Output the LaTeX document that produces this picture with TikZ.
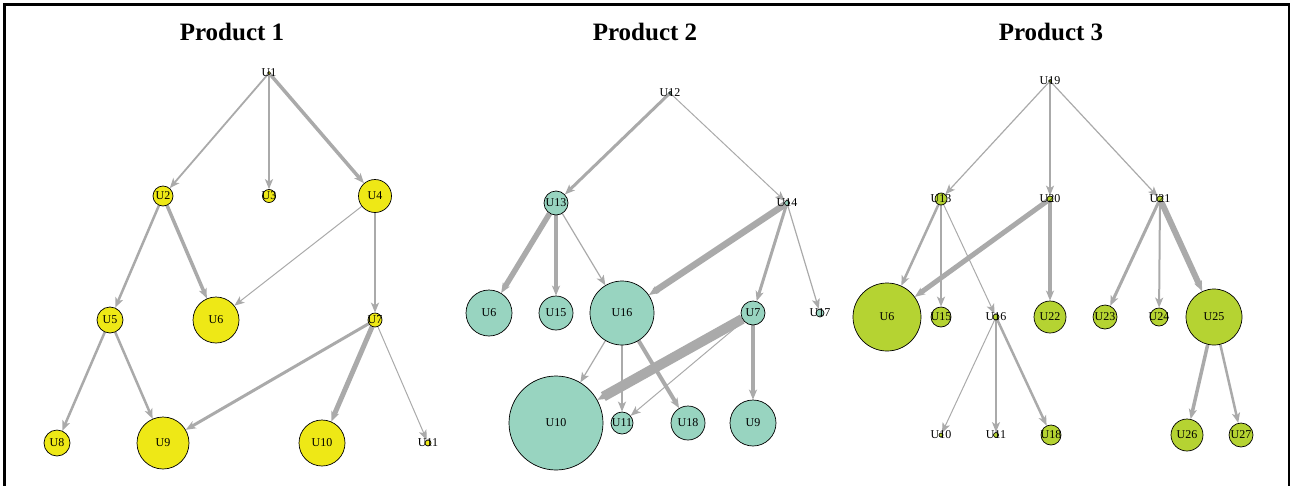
\documentclass[tikz,border=0pt]{standalone}
\usepackage{fontspec}
\setmainfont{Liberation Serif}
\usetikzlibrary{arrows.meta}
\pgfdeclarelayer{bg}
\pgfsetlayers{bg,main}
\definecolor{edgegray}{RGB}{170,170,170}
\definecolor{cya}{RGB}{238,232,22}
\definecolor{cyb}{RGB}{152,212,192}
\definecolor{cyc}{RGB}{181,211,50}
\tikzset{
  vx/.style={circle,draw=black,line width=0.7pt,inner sep=0pt,minimum size=#1},
  ya/.style={vx=#1,fill=cya},
  yb/.style={vx=#1,fill=cyb},
  yc/.style={vx=#1,fill=cyc},
  every label/.style={font=\fontsize{12}{12}\selectfont,inner sep=0pt,text=black},
  ed/.style={draw=edgegray,line width=#1,-{Stealth[length=10pt,width=8pt,inset=2.5pt]}},
  ttl/.style={font=\fontsize{25}{25}\selectfont\bfseries}
}
\begin{document}
\begin{tikzpicture}[x=1pt,y=-1pt]
\useasboundingbox (0,0) rectangle (1293,485);
\draw[line width=2.6pt] (4.5,486) -- (4.5,4.3) -- (1289,4.3) -- (1289,486);
% titles
\node[ttl] (t1) at (232,32) {Product 1};
\node[ttl] (t2) at (645,32) {Product 2};
\node[ttl] (t3) at (1051,32) {Product 3};
% ---------- Product 1 ----------
\node[ya=3pt,label=center:U1] (a1) at (269,73) {};
\node[ya=20pt,label=center:U2] (a2) at (163,196) {};
\node[ya=13pt,label=center:U3] (a3) at (269,196) {};
\node[ya=33pt,label=center:U4] (a4) at (375,196) {};
\node[ya=26pt,label=center:U5] (a5) at (110,320) {};
\node[ya=46pt,label=center:U6] (a6) at (216,320) {};
\node[ya=14pt,label=center:U7] (a7) at (375,320) {};
\node[ya=26pt,label=center:U8] (a8) at (57,443) {};
\node[ya=52pt,label=center:U9] (a9) at (163,443) {};
\node[ya=46pt,label=center:U10] (a10) at (322,443) {};
\node[ya=6pt,label=center:U11] (a11) at (428,443) {};
% ---------- Product 2 ----------
\node[yb=3pt,label=center:U12] (b12) at (670,93) {};
\node[yb=24pt,label=center:U13] (b13) at (556,203) {};
\node[yb=5pt,label=center:U14] (b14) at (787,203) {};
\node[yb=46pt,label=center:U6] (b6) at (489,313) {};
\node[yb=34pt,label=center:U15] (b15) at (556,313) {};
\node[yb=64pt,label=center:U16] (b16) at (622,313) {};
\node[yb=24pt,label=center:U7] (b7) at (753,313) {};
\node[yb=8pt,label=center:U17] (b17) at (820,313) {};
\node[yb=94pt,label=center:U10] (b10) at (556,423) {};
\node[yb=22pt,label=center:U11] (b11) at (622,423) {};
\node[yb=34pt,label=center:U18] (b18) at (688,423) {};
\node[yb=46pt,label=center:U9] (b9) at (753,423) {};
% ---------- Product 3 ----------
\node[yc=3pt,label=center:U19] (c19) at (1050,81) {};
\node[yc=12pt,label=center:U13] (c13) at (941,199) {};
\node[yc=6pt,label=center:U20] (c20) at (1050,199) {};
\node[yc=6pt,label=center:U21] (c21) at (1160,199) {};
\node[yc=68pt,label=center:U6] (c6) at (887,317) {};
\node[yc=20pt,label=center:U15] (c15) at (941,317) {};
\node[yc=6pt,label=center:U16] (c16) at (996,317) {};
\node[yc=32pt,label=center:U22] (c22) at (1050,317) {};
\node[yc=24pt,label=center:U23] (c23) at (1105,317) {};
\node[yc=18pt,label=center:U24] (c24) at (1159,317) {};
\node[yc=56pt,label=center:U25] (c25) at (1214,317) {};
\node[yc=4pt,label=center:U10] (c10) at (941,435) {};
\node[yc=5pt,label=center:U11] (c11) at (996,435) {};
\node[yc=20pt,label=center:U18] (c18) at (1051,435) {};
\node[yc=32pt,label=center:U26] (c26) at (1187,435) {};
\node[yc=24pt,label=center:U27] (c27) at (1241,435) {};
\begin{pgfonlayer}{bg}
% Product 1 edges
\draw[ed=1.8pt] (a1) -- (a2);
\draw[ed=1.8pt] (a1) -- (a3);
\draw[ed=3.5pt] (a1) -- (a4);
\draw[ed=2.5pt] (a2) -- (a5);
\draw[ed=3.5pt] (a2) -- (a6);
\draw[ed=1pt] (a4) -- (a6);
\draw[ed=2pt] (a4) -- (a7);
\draw[ed=2.5pt] (a5) -- (a8);
\draw[ed=2.5pt] (a5) -- (a9);
\draw[ed=3pt] (a7) -- (a9);
\draw[ed=5pt] (a7) -- (a10);
\draw[ed=1pt] (a7) -- (a11);
% Product 2 edges
\draw[ed=3pt] (b12) -- (b13);
\draw[ed=1pt] (b12) -- (b14);
\draw[ed=5.5pt] (b13) -- (b6);
\draw[ed=4pt] (b13) -- (b15);
\draw[ed=1.2pt] (b13) -- (b16);
\draw[ed=6.5pt] (b14) -- (b16);
\draw[ed=3pt] (b14) -- (b7);
\draw[ed=1.2pt] (b14) -- (b17);
\draw[ed=1.2pt] (b16) -- (b10);
\draw[ed=2pt] (b16) -- (b11);
\draw[ed=4pt] (b16) -- (b18);
\draw[ed=10pt] (b7) -- (b10);
\draw[ed=1pt] (b7) -- (b11);
\draw[ed=4.5pt] (b7) -- (b9);
% Product 3 edges
\draw[ed=1.2pt] (c19) -- (c13);
\draw[ed=1.5pt] (c19) -- (c20);
\draw[ed=1.2pt] (c19) -- (c21);
\draw[ed=2.5pt] (c13) -- (c6);
\draw[ed=2pt] (c13) -- (c15);
\draw[ed=1pt] (c13) -- (c16);
\draw[ed=5pt] (c20) -- (c6);
\draw[ed=4pt] (c20) -- (c22);
\draw[ed=3pt] (c21) -- (c23);
\draw[ed=2pt] (c21) -- (c24);
\draw[ed=6pt] (c21) -- (c25);
\draw[ed=1pt] (c16) -- (c10);
\draw[ed=1.5pt] (c16) -- (c11);
\draw[ed=2.5pt] (c16) -- (c18);
\draw[ed=3.5pt] (c25) -- (c26);
\draw[ed=2.5pt] (c25) -- (c27);
\end{pgfonlayer}
\end{tikzpicture}
\end{document}
